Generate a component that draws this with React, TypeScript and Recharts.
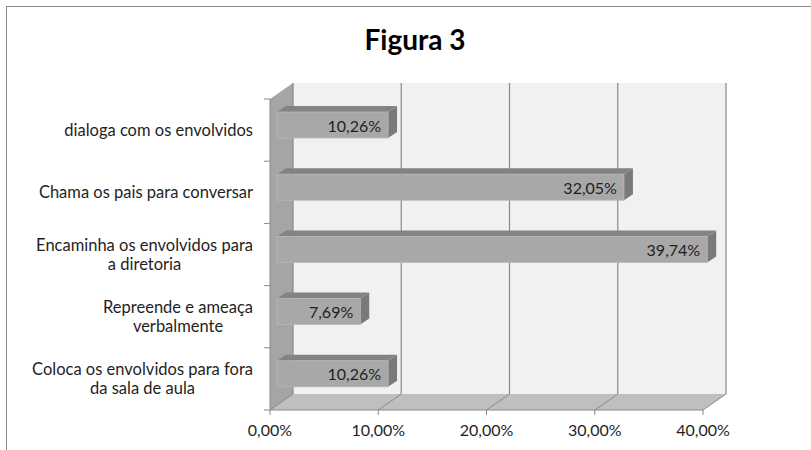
import { Bar, BarChart, CartesianGrid, XAxis, YAxis } from 'recharts';

// categorias de cima para baixo ('\n' quebra a linha do rótulo)
const categorias = [
  'dialoga com os envolvidos',
  'Chama os pais para conversar',
  'Encaminha os envolvidos para\na diretoria',
  'Repreende e ameaça\nverbalmente',
  'Coloca os envolvidos para fora\nda sala de aula',
];
const percentuais = [0.1026, 0.3205, 0.3974, 0.0769, 0.1026];
const ticksX = [0, 0.1, 0.2, 0.3, 0.4];

const data = categorias.map((categoria, i) => ({ categoria, valor: percentuais[i] }));

const W = 811;
const H = 450;
const MARGIN = { top: 99, right: 108, bottom: 10, left: 0 };
const Y_AXIS_W = 270;
const X_AXIS_H = 30;
const PLOT_LEFT = MARGIN.left + Y_AXIS_W;
const PLOT_H = H - MARGIN.top - MARGIN.bottom - X_AXIS_H;

// profundidade do "3D"
const DX = 23;
const DY = 16;

const FONT = 'Lato, sans-serif';
const FONT_SIZE = 16;
const FONT_CAT = 16.5;
const TEXTO = '#1f1f1f';
const LINHA = '#898989';

const fmt = (v: number) => (v * 100).toFixed(2).replace('.', ',') + '%';

let ctx: CanvasRenderingContext2D | null = null;
function larguraTexto(s: string) {
  if (!ctx) ctx = document.createElement('canvas').getContext('2d');
  if (!ctx) return s.length * 7.7;
  ctx.font = `${FONT_CAT}px ${FONT}`;
  return ctx.measureText(s).width;
}

function FundoGrade(props: any) {
  const { x1, y1, y2, index, x, y, width, height } = props;
  const bx = x1 + DX;
  return (
    <g key={props.key}>
      {index === 0 && (
        <g>
          {/* parede do fundo */}
          <rect x={x + DX} y={y - DY} width={width} height={height} fill="#f1f1f1" />
          {/* parede esquerda */}
          <polygon
            points={`${x},${y} ${x + DX},${y - DY} ${x + DX},${y + height - DY} ${x},${y + height}`}
            fill="#a5a5a5"
          />
          {/* piso */}
          <polygon
            points={`${x},${y + height} ${x + DX},${y + height - DY} ${x + width + DX},${y + height - DY} ${x + width},${y + height}`}
            fill="#bfbfbf"
          />
        </g>
      )}
      <line x1={x1} y1={y2} x2={bx} y2={y2 - DY} stroke={LINHA} strokeWidth={1} />
      <line x1={bx} y1={y1 - DY} x2={bx} y2={y2 - DY} stroke={LINHA} strokeWidth={1.2} />
    </g>
  );
}

function Caixa3D(props: any) {
  const { x, y, width, height, payload } = props;
  const fx = x + 7;
  const fy = y - 5;
  const d = 9;
  const e = 6;
  return (
    <g>
      <polygon
        points={`${fx},${fy} ${fx + d},${fy - e} ${fx + width + d},${fy - e} ${fx + width},${fy}`}
        fill="#838383"
      />
      <polygon
        points={`${fx + width},${fy} ${fx + width + d},${fy - e} ${fx + width + d},${fy + height - e} ${fx + width},${fy + height}`}
        fill="#7a7a7a"
      />
      <rect x={fx} y={fy} width={width} height={height} fill="#a8a8a8" stroke="#b8b8b8" strokeWidth={0.8} />
      <text
        x={fx + width - 7}
        y={fy + height / 2}
        textAnchor="end"
        dominantBaseline="central"
        fontFamily={FONT}
        fontSize={FONT_SIZE}
        fill={TEXTO}
      >
        {fmt(payload.valor)}
      </text>
    </g>
  );
}

function RotuloCategoria(props: any) {
  const { y, payload, index } = props;
  const linhas = String(payload.value).split('\n');
  const lh = 19;
  const y0 = y - ((linhas.length - 1) * lh) / 2;
  const direita = PLOT_LEFT - 17;
  // bloco alinhado à direita, linhas centradas entre si
  const bloco = Math.max(...linhas.map(larguraTexto));
  const cx = direita - bloco / 2;
  const banda = PLOT_H / categorias.length;
  return (
    <g>
      {linhas.map((l, i) => (
        <text
          key={i}
          x={cx}
          y={y0 + i * lh}
          textAnchor="middle"
          dominantBaseline="central"
          fontFamily={FONT}
          fontSize={FONT_CAT}
          fill={TEXTO}
        >
          {l}
        </text>
      ))}
      <line x1={PLOT_LEFT - 6} y1={y - banda / 2} x2={PLOT_LEFT} y2={y - banda / 2} stroke={LINHA} />
      {index === categorias.length - 1 && (
        <line x1={PLOT_LEFT - 6} y1={y + banda / 2} x2={PLOT_LEFT} y2={y + banda / 2} stroke={LINHA} />
      )}
    </g>
  );
}

export default function App() {
  return (
    <div
      style={{
        position: 'absolute',
        left: 0,
        top: 0,
        width: W,
        height: H,
        overflow: 'hidden',
        background: '#fff',
      }}
    >
      <div
        style={{
          position: 'absolute',
          left: 6,
          top: 6,
          width: W + 40,
          height: H + 40,
          border: '1px solid #8a8a8a',
        }}
      />
      <div
        style={{
          position: 'absolute',
          left: 0,
          top: 22,
          width: 830,
          textAlign: 'center',
          fontFamily: FONT,
          fontWeight: 700,
          fontSize: 28,
          lineHeight: '34px',
          color: '#000',
        }}
      >
        Figura 3
      </div>
      <div style={{ position: 'absolute', left: 0, top: 0 }}>
        <BarChart width={W} height={H} data={data} layout="vertical" margin={MARGIN}>
          <CartesianGrid horizontal={false} vertical={FundoGrade} />
          <XAxis
            type="number"
            domain={[0, 0.4]}
            ticks={ticksX}
            tickFormatter={fmt}
            height={X_AXIS_H}
            stroke={LINHA}
            tickSize={5}
            tickMargin={10}
            tick={{ fontFamily: FONT, fontSize: FONT_SIZE, fill: TEXTO }}
          />
          <YAxis
            type="category"
            dataKey="categoria"
            width={Y_AXIS_W}
            stroke={LINHA}
            tickLine={false}
            tick={RotuloCategoria}
            interval={0}
          />
          <Bar dataKey="valor" barSize={26} shape={Caixa3D} isAnimationActive={false} />
        </BarChart>
      </div>
    </div>
  );
}
